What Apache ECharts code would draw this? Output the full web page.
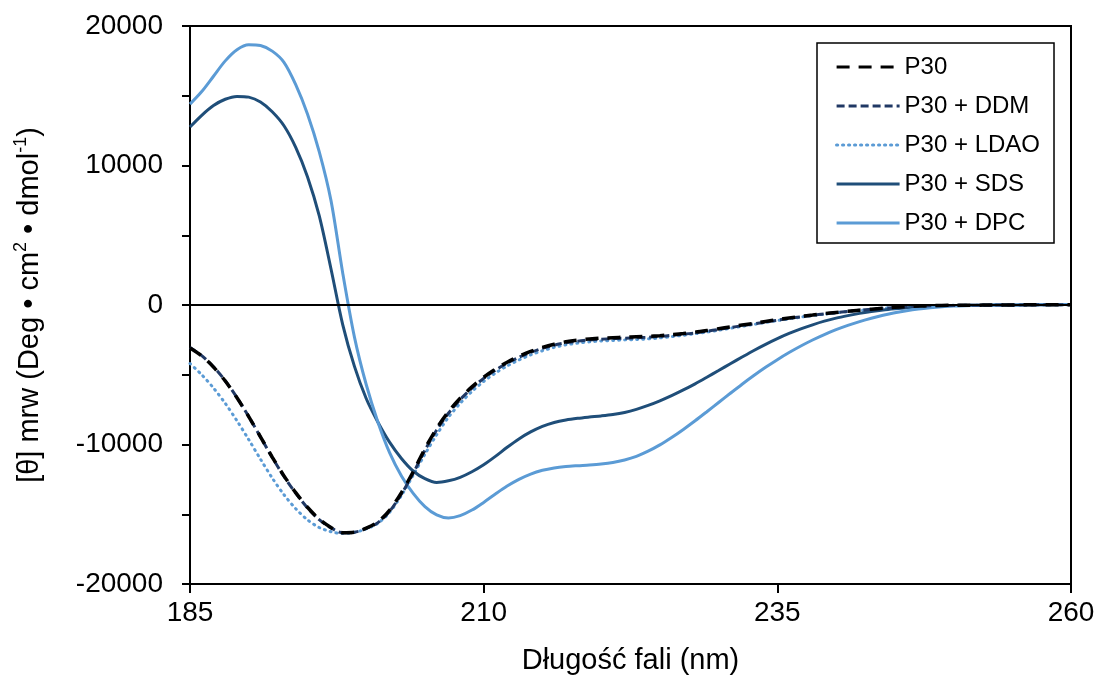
<!DOCTYPE html>
<html>
<head>
<meta charset="utf-8">
<script src="https://cdn.jsdelivr.net/npm/echarts@6/dist/echarts.min.js"></script>
<style>
html,body{margin:0;padding:0;background:#fff;}
#chart{width:1100px;height:682px;}
</style>
</head>
<body>
<div id="chart"></div>
<script>
const wavelengths = [185,186,187,188,189,190,191,192,193,194,195,196,197,198,199,200,201,202,203,204,205,206,207,208,209,210,211,212,213,214,215,216,217,218,219,220,221,222,223,224,225,226,227,228,229,230,231,232,233,234,235,236,237,238,239,240,241,242,243,244,245,246,247,248,249,250,251,252,253,254,255,256,257,258,259,260];

const p30 = [-3080,-3650,-4450,-5450,-6650,-8000,-9450,-10900,-12250,-13450,-14500,-15350,-15950,-16320,-16280,-16000,-15550,-14700,-13450,-11950,-10300,-8850,-7650,-6680,-5870,-5180,-4600,-4100,-3680,-3330,-3040,-2810,-2640,-2520,-2440,-2380,-2340,-2310,-2280,-2250,-2200,-2130,-2050,-1950,-1830,-1700,-1570,-1440,-1310,-1180,-1050,-930,-820,-720,-620,-530,-450,-370,-300,-230,-170,-120,-80,-50,-30,-20,-15,-10,-5,0,5,10,10,15,20,20];

const p30ddm = [-3050,-3630,-4430,-5430,-6640,-8000,-9460,-10930,-12290,-13490,-14540,-15390,-15980,-16330,-16290,-16020,-15600,-14780,-13550,-12060,-10420,-8960,-7760,-6780,-5960,-5260,-4670,-4170,-3750,-3400,-3110,-2880,-2710,-2590,-2510,-2450,-2410,-2380,-2350,-2310,-2250,-2180,-2100,-2000,-1880,-1750,-1620,-1480,-1350,-1220,-1090,-960,-850,-740,-640,-550,-460,-380,-310,-240,-180,-130,-90,-60,-40,-30,-20,-15,-10,-5,0,5,10,15,15,20];

const p30ldao = [-4200,-5000,-5950,-7050,-8300,-9650,-11050,-12400,-13600,-14600,-15400,-15950,-16250,-16380,-16300,-16050,-15650,-14850,-13650,-12200,-10700,-9300,-8050,-7050,-6200,-5480,-4880,-4370,-3940,-3580,-3280,-3040,-2860,-2730,-2640,-2580,-2540,-2500,-2470,-2430,-2360,-2270,-2170,-2060,-1940,-1810,-1670,-1530,-1390,-1250,-1120,-990,-870,-760,-660,-560,-470,-390,-310,-240,-180,-130,-90,-60,-40,-25,-15,-10,-5,0,0,5,10,10,15,20];

const p30sds = [12760,13600,14300,14750,14950,14900,14550,13850,12850,11300,9200,6400,2600,-1400,-4400,-6700,-8400,-9850,-11000,-11900,-12450,-12720,-12600,-12350,-11950,-11450,-10850,-10200,-9600,-9100,-8700,-8420,-8240,-8120,-8030,-7950,-7850,-7700,-7480,-7200,-6870,-6500,-6090,-5650,-5180,-4700,-4210,-3730,-3260,-2820,-2410,-2040,-1710,-1420,-1160,-940,-760,-600,-470,-360,-270,-190,-130,-90,-60,-40,-30,-20,-10,0,5,10,15,20,25,30];

const p30dpc = [14400,15300,16400,17500,18300,18650,18600,18200,17400,15800,13700,11000,7500,2300,-2300,-5700,-8400,-10600,-12250,-13500,-14450,-15050,-15270,-15100,-14700,-14150,-13550,-12980,-12500,-12120,-11850,-11680,-11580,-11520,-11470,-11400,-11290,-11110,-10850,-10480,-10030,-9500,-8920,-8300,-7650,-6990,-6330,-5680,-5060,-4470,-3920,-3410,-2940,-2510,-2120,-1770,-1460,-1190,-950,-740,-560,-410,-290,-200,-130,-80,-50,-30,-15,0,5,10,20,25,30,30];

const seriesNames = ['P30','P30 + DDM','P30 + LDAO','P30 + SDS','P30 + DPC'];
const xTicks = [185,210,235,260];
const yTickLabels = [-20000,-10000,0,10000,20000];

const FONT = '"Liberation Sans", Arial, sans-serif';
const pair = arr => wavelengths.map((w,i)=>[w, arr[i]]);

const chart = echarts.init(document.getElementById('chart'), null, {renderer:'canvas'});
chart.setOption({
  animation:false,
  backgroundColor:'#fff',
  grid:{left:190,right:29,top:26,bottom:98,show:true,borderColor:'#000',borderWidth:2,backgroundColor:'transparent'},
  legend:{
    orient:'vertical', left:817, top:43,
    padding:[12,14,8,18],
    borderColor:'#000', borderWidth:1.5,
    itemWidth:63, itemHeight:20, itemGap:15,
    itemStyle:{opacity:0,borderWidth:0},
    lineStyle:{width:3.2},
    textStyle:{fontFamily:FONT,fontSize:24,color:'#000'},
    data:seriesNames
  },
  xAxis:{
    type:'value', min:185, max:260, interval:25,
    name:'Długość fali (nm)', nameLocation:'middle', nameGap:62,
    nameTextStyle:{fontFamily:FONT,fontSize:29,color:'#000'},
    axisLine:{onZero:false,lineStyle:{color:'#000',width:2}},
    axisTick:{show:true,length:9,lineStyle:{color:'#000',width:2}},
    axisLabel:{fontFamily:FONT,fontSize:28,color:'#000',margin:15,
      formatter:v=> xTicks.indexOf(v)>=0 ? String(v) : ''},
    splitLine:{show:false}
  },
  yAxis:{
    type:'value', min:-20000, max:20000, interval:5000,
    name:'{n|[θ] mrw (Deg • cm}{s|2}{n| • dmol}{s|-1}{n|)}',
    nameLocation:'middle', nameGap:146,
    nameTextStyle:{fontFamily:FONT,fontSize:29,color:'#000',
      rich:{n:{fontFamily:FONT,fontSize:29,color:'#000',lineHeight:32,verticalAlign:'bottom'},
            s:{fontFamily:FONT,fontSize:18,color:'#000',lineHeight:32,verticalAlign:'top'}}},
    axisLine:{onZero:false,lineStyle:{color:'#000',width:2}},
    axisTick:{show:true,length:8,lineStyle:{color:'#000',width:2}},
    axisLabel:{fontFamily:FONT,fontSize:28,color:'#000',margin:27,
      formatter:v=> yTickLabels.indexOf(v)>=0 ? String(v) : ''},
    splitLine:{show:false}
  },
  series:[
    {name:seriesNames[0],type:'line',data:pair(p30),smooth:0.3,showSymbol:false,symbol:'none',z:5,
      lineStyle:{color:'#000',width:3.5,type:[13,9]},itemStyle:{color:'#000'},
      markLine:{silent:true,symbol:['none','none'],label:{show:false},
        lineStyle:{color:'#000',width:2,type:'solid'},data:[{yAxis:0}]}},
    {name:seriesNames[1],type:'line',data:pair(p30ddm),smooth:0.3,showSymbol:false,symbol:'none',z:4,
      lineStyle:{color:'#203864',width:3,type:[8,4]},itemStyle:{color:'#203864'}},
    {name:seriesNames[2],type:'line',data:pair(p30ldao),smooth:0.3,showSymbol:false,symbol:'none',z:3,
      lineStyle:{color:'#5B9BD5',width:3,type:[1,5],cap:'round'},itemStyle:{color:'#5B9BD5'}},
    {name:seriesNames[3],type:'line',data:pair(p30sds),smooth:0.3,showSymbol:false,symbol:'none',z:3,
      lineStyle:{color:'#1F4E79',width:3,type:'solid'},itemStyle:{color:'#1F4E79'}},
    {name:seriesNames[4],type:'line',data:pair(p30dpc),smooth:0.3,showSymbol:false,symbol:'none',z:3,
      lineStyle:{color:'#5B9BD5',width:3,type:'solid'},itemStyle:{color:'#5B9BD5'}}
  ]
});
</script>
</body>
</html>
